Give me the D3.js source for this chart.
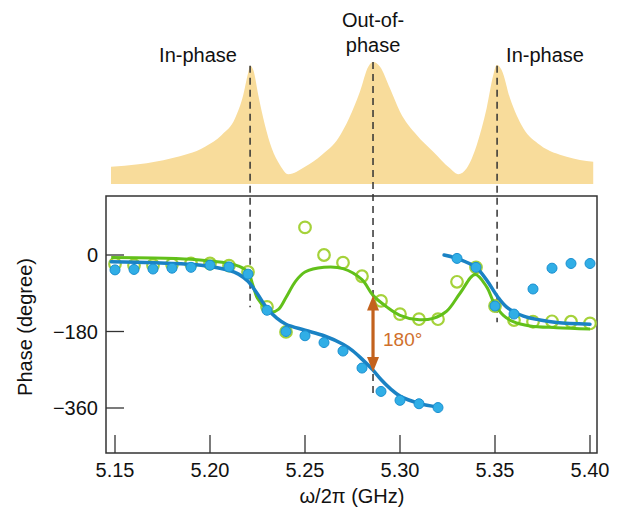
<!DOCTYPE html>
<html>
<head>
<meta charset="utf-8">
<script src="https://cdn.jsdelivr.net/npm/d3@7"></script>
<style>
  body { margin: 0; background: #fff; }
  text { font-family: "Liberation Sans", Arial, sans-serif; fill: #111; }
</style>
</head>
<body>
<div id="main"></div>
<script>
const ctx = { w: 619, h: 514 };

// ---- data ----
const xTicks = [5.15, 5.20, 5.25, 5.30, 5.35, 5.40];
const yTicks = [0, -180, -360];

const dotFreq = [5.15, 5.16, 5.17, 5.18, 5.19, 5.20, 5.21, 5.22, 5.23, 5.24, 5.25, 5.26, 5.27,
                 5.28, 5.29, 5.30, 5.31, 5.32, 5.33, 5.34, 5.35, 5.36, 5.37, 5.38, 5.39, 5.40];
const bluePhase = [-35, -34, -33, -31, -29, -24, -28, -45, -130, -180, -190, -206, -226,
                   -266, -321, -342, -350, -359, -8, -29, -120, -139, -80, -31, -20, -20];
const greenPhase = [-21, -24, -24, -22, -20, -20, -25, -40, -122, -181, 65, 0, -18,
                    -50, -108, -139, -151, -151, -63, -29, -120, -153, -157, -156, -157, -161];

// fitted curves
const blueFitA_f = [5.148, 5.17, 5.19, 5.20, 5.21, 5.215, 5.22, 5.225, 5.23, 5.235, 5.24, 5.25, 5.26,
                    5.27, 5.275, 5.28, 5.2858, 5.29, 5.295, 5.30, 5.31, 5.32];
const blueFitA_p = [-16, -18, -22, -27, -36, -45, -62, -92, -125, -148, -163, -177, -190,
                    -210, -225, -245, -271, -293, -315, -332, -349, -358];
const blueFitB_f = [5.3232, 5.33, 5.34, 5.3456, 5.3512, 5.356, 5.365, 5.3737, 5.3825, 5.40];
const blueFitB_p = [0, -8, -29, -59, -97, -122, -144, -153, -159, -163];
const greenFit_f = [5.148, 5.17, 5.19, 5.20, 5.21, 5.215, 5.22, 5.2225, 5.225, 5.23, 5.2325, 5.236,
                    5.24, 5.245, 5.25, 5.26, 5.27, 5.28, 5.2858, 5.293, 5.30, 5.309, 5.3175, 5.3246,
                    5.3316, 5.3395, 5.3456, 5.3496, 5.3544, 5.3596, 5.3684, 5.3825, 5.40];
const greenFit_p = [-6, -7, -10, -14, -20, -26, -40, -70, -102, -128, -134, -128,
                    -100, -62, -40, -29, -32, -58, -95, -122, -142, -152, -149, -132,
                    -90, -46, -75, -114, -142, -157, -167, -171, -174];

// transmission spectrum (normalised amplitude)
const specFreq = [5.1479, 5.1623, 5.1798, 5.1974, 5.2062, 5.2132, 5.2175, 5.2202, 5.2211, 5.2228,
                  5.2254, 5.2289, 5.2325, 5.2368, 5.2412, 5.25, 5.2588, 5.2675, 5.2732, 5.2789,
                  5.2833, 5.2859, 5.2895, 5.2947, 5.30, 5.3088, 5.3175, 5.3263, 5.3307, 5.3351,
                  5.3404, 5.3456, 5.3491, 5.3509, 5.3535, 5.3579, 5.3649, 5.3737, 5.3877, 5.4017];
const specAmp = [0.142, 0.161, 0.211, 0.306, 0.402, 0.539, 0.730, 0.920, 0.970, 0.934,
                 0.730, 0.484, 0.293, 0.156, 0.080, 0.142, 0.238, 0.375, 0.539, 0.757,
                 0.961, 1.0, 0.961, 0.784, 0.593, 0.402, 0.265, 0.129, 0.080, 0.129,
                 0.320, 0.620, 0.893, 0.975, 0.934, 0.702, 0.457, 0.320, 0.224, 0.183];

const resonances = [5.2211, 5.2858, 5.3511];
const resTop = [0.97, 1.0, 0.97];
const resBottom = [-123, -335, -158];

const levelUpper = -95, levelLower = -275;
const upperSpan = [5.2216, 5.352];
const lowerSpan = [5.2447, 5.3263];

// ---- layout ----
const frame = { left: 106, right: 597, top: 196, bottom: 453 };

const svg = d3.select("#main").append("svg")
    .attr("width", ctx.w).attr("height", ctx.h);

const x = d3.scaleLinear().domain([5.15, 5.40]).range([115, 590]);
const y = d3.scaleLinear().domain([0, -360]).range([255, 408]);
const ys = d3.scaleLinear().domain([0, 1]).range([184, 62]);

const defs = svg.append("defs");
const sh = defs.append("filter").attr("id", "shadow")
    .attr("x", "-10%").attr("y", "-200%").attr("width", "120%").attr("height", "500%");
sh.append("feDropShadow").attr("dx", 0).attr("dy", 3).attr("stdDeviation", 1.8)
    .attr("flood-color", "#000").attr("flood-opacity", 0.3);

// spectrum
svg.append("path")
    .datum(specFreq.map((f, i) => [f, specAmp[i]]))
    .attr("fill", "#f8dc9b")
    .attr("d", d3.area().x(d => x(d[0])).y0(ys(0)).y1(d => ys(d[1])).curve(d3.curveMonotoneX));

// labels over peaks
svg.append("text").attr("x", 198).attr("y", 62).attr("text-anchor", "middle")
    .style("font-size", "20px").text("In-phase");
svg.append("text").attr("x", 545).attr("y", 62).attr("text-anchor", "middle")
    .style("font-size", "20px").text("In-phase");
svg.append("text").attr("x", x(resonances[1])).attr("y", 27).attr("text-anchor", "middle")
    .style("font-size", "20px").text("Out-of-");
svg.append("text").attr("x", x(resonances[1])).attr("y", 52).attr("text-anchor", "middle")
    .style("font-size", "20px").text("phase");

// frame
svg.append("rect")
    .attr("x", frame.left).attr("y", frame.top)
    .attr("width", frame.right - frame.left).attr("height", frame.bottom - frame.top)
    .attr("fill", "none").attr("stroke", "#333").attr("stroke-width", 1.5);

// ticks, drawn inward
svg.append("g").selectAll("line").data(xTicks).enter().append("line")
    .attr("x1", d => x(d)).attr("x2", d => x(d))
    .attr("y1", frame.bottom).attr("y2", frame.bottom - 18)
    .attr("stroke", "#333").attr("stroke-width", 1.3);
svg.append("g").selectAll("text").data(xTicks).enter().append("text")
    .attr("x", d => x(d)).attr("y", 477).attr("text-anchor", "middle")
    .style("font-size", "20px").text(d => d.toFixed(2));

svg.append("g").selectAll("line").data(yTicks).enter().append("line")
    .attr("x1", frame.left).attr("x2", frame.left + 18)
    .attr("y1", d => y(d)).attr("y2", d => y(d))
    .attr("stroke", "#333").attr("stroke-width", 1.3);
svg.append("g").selectAll("text").data(yTicks).enter().append("text")
    .attr("x", 98).attr("y", d => y(d) + 7).attr("text-anchor", "end")
    .style("font-size", "20px").text(d => d === 0 ? "0" : "\u2212" + Math.abs(d));

// axis titles
svg.append("text").attr("x", 352).attr("y", 503).attr("text-anchor", "middle")
    .style("font-size", "20px").text("\u03c9/2\u03c0 (GHz)");
svg.append("text").attr("transform", "translate(32,327) rotate(-90)").attr("text-anchor", "middle")
    .style("font-size", "20px").text("Phase (degree)");

// vertical resonance markers
svg.append("g").selectAll("line").data(resonances).enter().append("line")
    .attr("x1", d => x(d)).attr("x2", d => x(d))
    .attr("y1", (d, i) => ys(resTop[i])).attr("y2", (d, i) => y(resBottom[i]))
    .attr("stroke", "#333").attr("stroke-width", 1.5).attr("stroke-dasharray", "7,5");

// horizontal dashed levels
const brown = "#8c4a22";
svg.append("line")
    .attr("x1", x(upperSpan[0])).attr("x2", x(upperSpan[1]))
    .attr("y1", y(levelUpper)).attr("y2", y(levelUpper))
    .attr("stroke", brown).attr("stroke-width", 2).attr("stroke-dasharray", "9,7")
    .attr("filter", "url(#shadow)");
svg.append("line")
    .attr("x1", x(lowerSpan[0])).attr("x2", x(lowerSpan[1]))
    .attr("y1", y(levelLower)).attr("y2", y(levelLower))
    .attr("stroke", brown).attr("stroke-width", 2).attr("stroke-dasharray", "9,7")
    .attr("filter", "url(#shadow)");

// data and fits
const line = d3.line().x(d => x(d[0])).y(d => y(d[1])).curve(d3.curveCatmullRom.alpha(0.5));

svg.append("g").selectAll("circle").data(dotFreq.map((f, i) => [f, greenPhase[i]])).enter()
    .append("circle")
    .attr("cx", d => x(d[0])).attr("cy", d => y(d[1])).attr("r", 5.8)
    .attr("fill", "none").attr("stroke", "#a5d23a").attr("stroke-width", 2.2);

svg.append("path").datum(greenFit_f.map((f, i) => [f, greenFit_p[i]]))
    .attr("fill", "none").attr("stroke", "#62c01a").attr("stroke-width", 3)
    .attr("d", line);

svg.append("path").datum(blueFitA_f.map((f, i) => [f, blueFitA_p[i]]))
    .attr("fill", "none").attr("stroke", "#1a82c4").attr("stroke-width", 3.5)
    .attr("stroke-linecap", "round").attr("d", line);
svg.append("path").datum(blueFitB_f.map((f, i) => [f, blueFitB_p[i]]))
    .attr("fill", "none").attr("stroke", "#1a82c4").attr("stroke-width", 3.5)
    .attr("stroke-linecap", "round").attr("d", line);

svg.append("g").selectAll("circle").data(dotFreq.map((f, i) => [f, bluePhase[i]])).enter()
    .append("circle")
    .attr("cx", d => x(d[0])).attr("cy", d => y(d[1])).attr("r", 5)
    .attr("fill", "#30aee6").attr("stroke", "#1a8fd0").attr("stroke-width", 1);

// 180 degree arrow
const orange = "#c3621d";
const ax = x(resonances[1]);
svg.append("line").attr("x1", ax).attr("x2", ax)
    .attr("y1", y(levelUpper) + 12).attr("y2", y(levelLower) - 12)
    .attr("stroke", orange).attr("stroke-width", 3.2);
svg.append("path")
    .attr("d", `M${ax},${y(levelUpper)} L${ax - 6},${y(levelUpper) + 15} L${ax + 6},${y(levelUpper) + 15} Z`)
    .attr("fill", orange);
svg.append("path")
    .attr("d", `M${ax},${y(levelLower)} L${ax - 6},${y(levelLower) - 15} L${ax + 6},${y(levelLower) - 15} Z`)
    .attr("fill", orange);
svg.append("text").attr("x", ax + 10).attr("y", y(-180) + 14)
    .style("font-size", "19px").style("fill", "#d0702c").text("180\u00b0");
</script>
</body>
</html>
